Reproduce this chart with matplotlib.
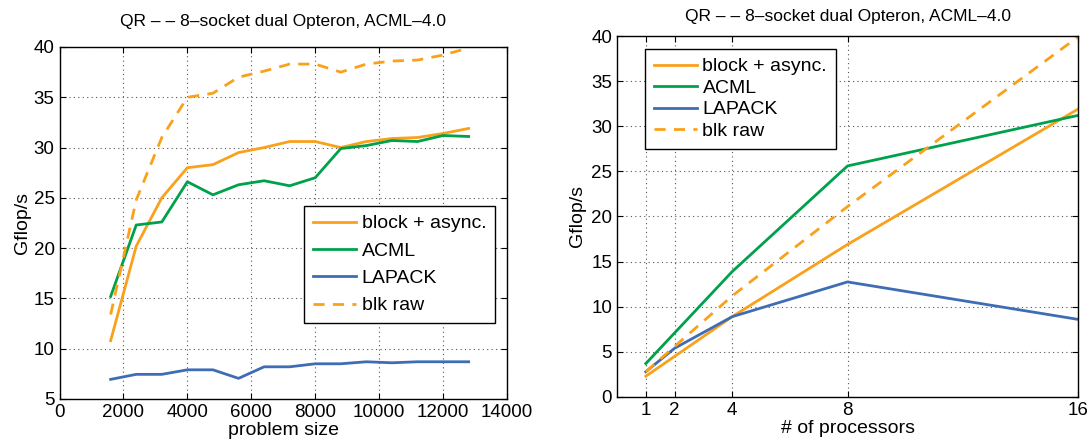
import numpy as np
import matplotlib
matplotlib.use("Agg")
import matplotlib.pyplot as plt

plt.rcParams['font.family'] = ['Liberation Sans', 'DejaVu Sans']

# left panel: performance vs problem size
size = [1600, 2400, 3200, 4000, 4800, 5600, 6400, 7200, 8000, 8800,
        9600, 10400, 11200, 12000, 12800]
blk_async = [10.8, 20.2, 25.0, 28.0, 28.3, 29.5, 30.0, 30.6, 30.6, 30.0,
             30.6, 30.9, 31.0, 31.4, 31.9]
acml = [15.2, 22.3, 22.6, 26.6, 25.3, 26.3, 26.7, 26.2, 27.0, 29.9,
        30.2, 30.7, 30.6, 31.2, 31.1]
lapack = [6.95, 7.45, 7.45, 7.9, 7.9, 7.05, 8.2, 8.2, 8.5, 8.5,
          8.7, 8.6, 8.7, 8.7, 8.7]
blk_raw = [13.4, 24.8, 31.0, 35.0, 35.4, 37.0, 37.6, 38.3, 38.3, 37.5,
           38.3, 38.6, 38.7, 39.2, 39.9]

# right panel: performance vs processor count
procs = [1, 2, 4, 8, 16]
p_blk_async = [2.3, 4.5, 8.9, 16.9, 31.9]
p_acml = [3.7, 7.1, 13.9, 25.6, 31.2]
p_lapack = [2.8, 5.4, 8.9, 12.75, 8.6]
p_blk_raw = [2.8, 5.6, 11.2, 21.1, 39.9]

labels = ["block + async.", "ACML", "LAPACK", "blk raw"]
title = "QR \u2013 \u2013 8\u2013socket dual Opteron, ACML\u20134.0"

c_orange = "#F9A11B"
c_green = "#00A14B"
c_blue = "#3E6DB5"
lw = 2.0
fs = 13.5


def style(ax):
    ax.grid(True, linestyle=(0, (1, 3)), color="#555555", linewidth=0.8)
    ax.tick_params(direction="in", top=True, right=True, labelsize=fs,
                   length=4, width=0.8)
    for s in ax.spines.values():
        s.set_linewidth(1.0)


def legend(ax, loc, anchor, spacing):
    leg = ax.legend(loc=loc, bbox_to_anchor=anchor, borderaxespad=0,
                    fancybox=False, edgecolor="black", fontsize=14,
                    handlelength=2.2, handletextpad=0.3, labelspacing=spacing,
                    borderpad=0.45, framealpha=1)
    leg.get_frame().set_linewidth(1.0)


fig = plt.figure(figsize=(10.92, 4.45), dpi=100)

ax1 = fig.add_axes([0.0545, 0.1034, 0.4098, 0.791])
ax1.plot(size, blk_async, color=c_orange, lw=lw, label=labels[0])
ax1.plot(size, acml, color=c_green, lw=lw, label=labels[1])
ax1.plot(size, lapack, color=c_blue, lw=lw, label=labels[2])
ax1.plot(size, blk_raw, color=c_orange, lw=lw, ls=(0, (4, 3)), label=labels[3])
ax1.set_xlim(0, 14000)
ax1.set_ylim(5, 40)
ax1.set_xticks(np.arange(0, 14001, 2000))
ax1.set_yticks(np.arange(5, 41, 5))
ax1.set_xlabel("problem size", fontsize=14, labelpad=1)
ax1.set_ylabel("Gflop/s", fontsize=14, labelpad=2)
ax1.set_title(title, fontsize=12.5, pad=15)
style(ax1)
legend(ax1, "upper right", (0.973, 0.548), 0.5)

ax2 = fig.add_axes([0.565, 0.1079, 0.4222, 0.8112])
ax2.plot(procs, p_blk_async, color=c_orange, lw=lw, label=labels[0])
ax2.plot(procs, p_acml, color=c_green, lw=lw, label=labels[1])
ax2.plot(procs, p_lapack, color=c_blue, lw=lw, label=labels[2])
ax2.plot(procs, p_blk_raw, color=c_orange, lw=lw, ls=(0, (4, 3)), label=labels[3])
ax2.set_xlim(0, 16)
ax2.set_ylim(0, 40)
ax2.set_xticks(procs)
ax2.set_yticks(np.arange(0, 41, 5))
ax2.set_xlabel("# of processors", fontsize=14, labelpad=1)
ax2.set_ylabel("Gflop/s", fontsize=14, labelpad=4)
ax2.set_title(title, fontsize=12.5, pad=11)
style(ax2)
legend(ax2, "upper left", (0.061, 0.964), 0.2)

fig.savefig("out.png", dpi=100)
